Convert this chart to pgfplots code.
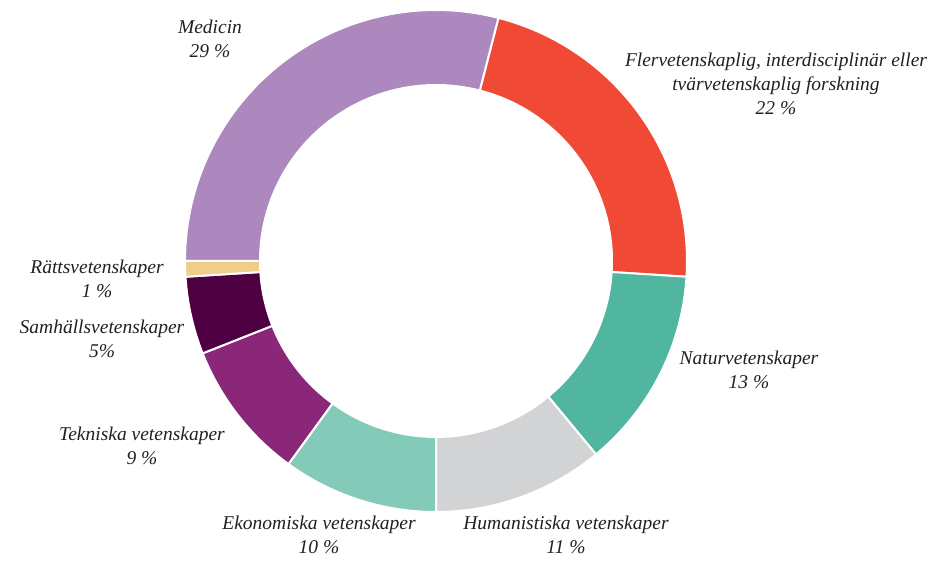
\documentclass[border=0pt]{standalone}
\usepackage{fontspec}
\setmainfont{Liberation Serif}
\usepackage{pgfplots}
\usepackage{pgfplotstable}
\pgfplotsset{compat=1.18}

\definecolor{cMed}{HTML}{AD88BE}
\definecolor{cFler}{HTML}{F04A37}
\definecolor{cNat}{HTML}{50B6A0}
\definecolor{cHum}{HTML}{D2D3D5}
\definecolor{cEko}{HTML}{84CAB8}
\definecolor{cTek}{HTML}{8B2778}
\definecolor{cSam}{HTML}{4E0042}
\definecolor{cRatt}{HTML}{F0CD8A}
\definecolor{txt}{HTML}{231F20}

% share of each field (percent), clockwise from the top
\pgfplotstableread[col sep=comma]{
value,color
22,cFler
13,cNat
11,cHum
10,cEko
9,cTek
5,cSam
1,cRatt
29,cMed
}\shares

\tikzset{lab/.style={font=\fontsize{19.5}{24}\selectfont\itshape, text=txt, align=center, inner sep=0pt}}

\begin{document}
\begin{tikzpicture}
\begin{axis}[
    width=932pt, height=560pt,
    scale only axis,
    xmin=0, xmax=932, ymin=0, ymax=560,
    hide axis,
    clip=false,
]
    \addplot[draw=none] coordinates {(0,0) (932,560)};
    \pgfmathsetmacro{\angA}{75.6}
    \pgfplotstablegetrowsof{\shares}
    \pgfmathtruncatemacro{\lastrow}{\pgfplotsretval-1}
    \pgfplotsforeachungrouped \i in {0,...,\lastrow}{
        \pgfplotstablegetelem{\i}{value}\of\shares \let\sval\pgfplotsretval
        \pgfplotstablegetelem{\i}{color}\of\shares \let\scol\pgfplotsretval
        \pgfmathsetmacro{\angB}{\angA-3.6*\sval}
        \edef\temp{\noexpand\fill[\scol, draw=white, line width=2pt]
            (axis cs:{436+251*cos(\angA)},{299+251*sin(\angA)})
            arc[start angle=\angA, end angle=\angB, radius=251]
            -- (axis cs:{436+176*cos(\angB)},{299+176*sin(\angB)})
            arc[start angle=\angB, end angle=\angA, radius=176] -- cycle;}
        \temp
        \global\let\angA\angB
    }
    \node[lab] at (axis cs:210,521) {Medicin\\29 \%};
    \node[lab] at (axis cs:776,476) {Flervetenskaplig, interdisciplinär eller\\tvärvetenskaplig forskning\\22 \%};
    \node[lab] at (axis cs:749,190) {Naturvetenskaper\\13 \%};
    \node[lab] at (axis cs:566,25) {Humanistiska vetenskaper\\11 \%};
    \node[lab] at (axis cs:319,25) {Ekonomiska vetenskaper\\10 \%};
    \node[lab] at (axis cs:142,114) {Tekniska vetenskaper\\9 \%};
    \node[lab] at (axis cs:102,221) {Samhällsvetenskaper\\5\%};
    \node[lab] at (axis cs:97,281) {Rättsvetenskaper\\1 \%};
\end{axis}
\pgfresetboundingbox
\path[use as bounding box] (0,0) rectangle (932pt,560pt);
\end{tikzpicture}
\end{document}
